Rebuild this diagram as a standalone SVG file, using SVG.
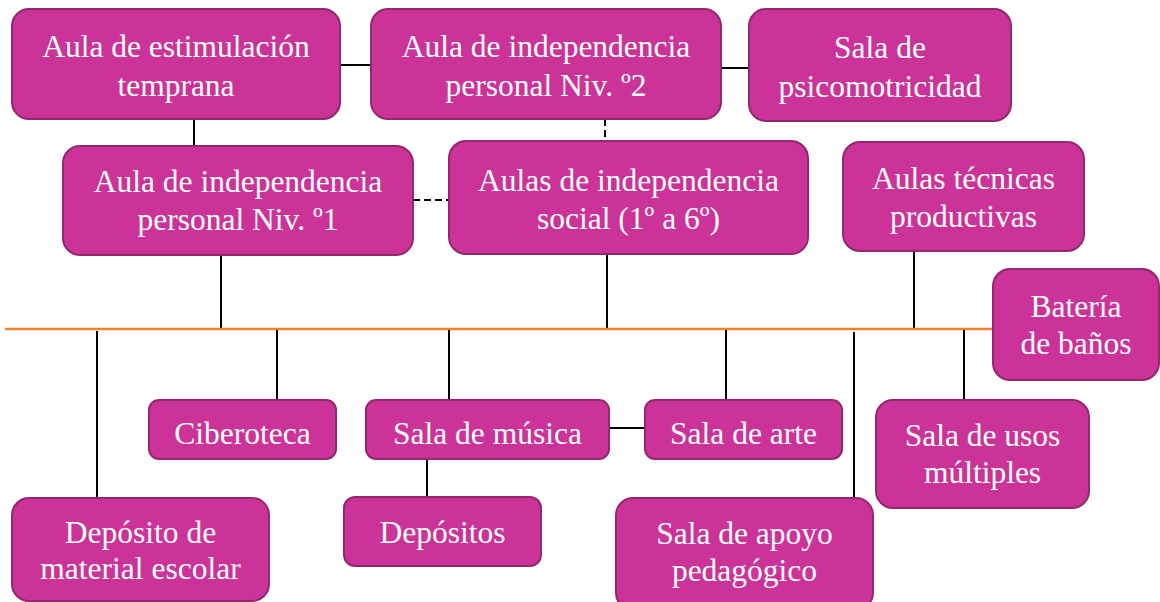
<svg xmlns="http://www.w3.org/2000/svg" width="1160" height="602" viewBox="0 0 1160 602">
<style>
.n rect{fill:#CC3399;stroke:#93286F;stroke-width:2}
.n text{fill:#FFFFFF;font-family:'Liberation Serif',Tinos,'DejaVu Serif',serif;font-size:31.5px;text-anchor:middle}
.c line{stroke:#000000;stroke-width:2}
.c .d{stroke-dasharray:7 4}
.c .o{stroke:#F08332;stroke-width:2.5}
</style>
<rect width="1160" height="602" fill="#FFFFFF"/>
<g class="c" id="connectors">
<line x1="340" y1="65" x2="371" y2="65"/>
<line x1="721" y1="68" x2="749" y2="68"/>
<line x1="194" y1="119" x2="194" y2="146"/>
<line class="d" x1="605" y1="119" x2="605" y2="141"/>
<line class="d" x1="413" y1="200" x2="449" y2="200"/>
<line x1="221" y1="255" x2="221" y2="329"/>
<line x1="607" y1="254" x2="607" y2="329"/>
<line x1="914" y1="251" x2="914" y2="329"/>
<line class="o" x1="5" y1="329" x2="993" y2="329"/>
<line x1="97" y1="331" x2="97" y2="498"/>
<line x1="277" y1="330" x2="277" y2="400"/>
<line x1="449" y1="330" x2="449" y2="400"/>
<line x1="726" y1="330" x2="726" y2="400"/>
<line x1="854" y1="332" x2="854" y2="498"/>
<line x1="964" y1="330" x2="964" y2="400"/>
<line x1="609" y1="428" x2="645" y2="428"/>
<line x1="427" y1="459" x2="427" y2="497"/>
</g>
<g class="n" id="n1"><rect x="12" y="9" width="328" height="110" rx="17"/><text x="176" y="57">Aula de estimulación</text><text x="176" y="96">temprana</text></g>
<g class="n" id="n2"><rect x="371" y="9" width="350" height="110" rx="17"/><text x="546" y="57">Aula de independencia</text><text x="546" y="96">personal Niv. º2</text></g>
<g class="n" id="n3"><rect x="749" y="9" width="262" height="112" rx="17"/><text x="880" y="58">Sala de</text><text x="880" y="97">psicomotricidad</text></g>
<g class="n" id="n4"><rect x="63" y="146" width="350" height="109" rx="17"/><text x="238" y="192">Aula de independencia</text><text x="238" y="230">personal Niv. º1</text></g>
<g class="n" id="n5"><rect x="449" y="141" width="359" height="113" rx="17"/><text x="628.5" y="191">Aulas de independencia</text><text x="628.5" y="229">social (1º a 6º)</text></g>
<g class="n" id="n6"><rect x="843" y="142" width="241" height="109" rx="17"/><text x="963.5" y="189">Aulas técnicas</text><text x="963.5" y="227">productivas</text></g>
<g class="n" id="n7"><rect x="993" y="269" width="166" height="111" rx="17"/><text x="1076" y="317">Batería</text><text x="1076" y="354">de baños</text></g>
<g class="n" id="n8"><rect x="149" y="400" width="187" height="59" rx="10"/><text x="242.5" y="444">Ciberoteca</text></g>
<g class="n" id="n9"><rect x="366" y="400" width="243" height="59" rx="10"/><text x="487.5" y="444">Sala de música</text></g>
<g class="n" id="n10"><rect x="645" y="400" width="197" height="59" rx="10"/><text x="743.5" y="444">Sala de arte</text></g>
<g class="n" id="n11"><rect x="876" y="400" width="213" height="108" rx="17"/><text x="982.5" y="446">Sala de usos</text><text x="982.5" y="483">múltiples</text></g>
<g class="n" id="n12"><rect x="12" y="498" width="257" height="103" rx="17"/><text x="140.5" y="543">Depósito de</text><text x="140.5" y="579">material escolar</text></g>
<g class="n" id="n13"><rect x="344" y="497" width="197" height="69" rx="11"/><text x="442.5" y="543">Depósitos</text></g>
<g class="n" id="n14"><rect x="616" y="498" width="257" height="112" rx="17"/><text x="744.5" y="544">Sala de apoyo</text><text x="744.5" y="581">pedagógico</text></g>
</svg>
